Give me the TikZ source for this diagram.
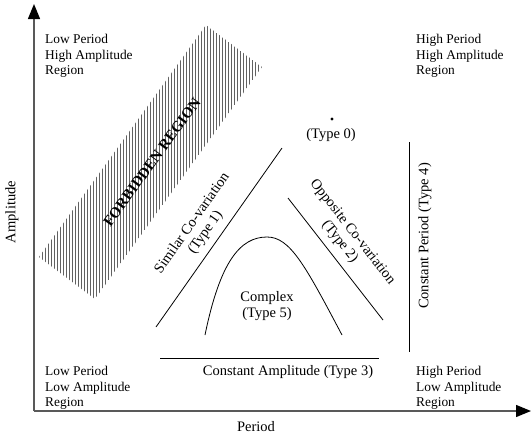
\documentclass[tikz,border=0pt]{standalone}
\usepackage{fontspec}
\setmainfont{Liberation Serif}
\usetikzlibrary{arrows.meta,patterns.meta}

\begin{document}
\begin{tikzpicture}[
        x=1pt, y=-1pt,
        axis/.style={draw=black!65, line width=1.3pt, -{Triangle[length=15pt,width=12pt,color=black]}},
        trend/.style={draw, line width=0.8pt},
        lbl/.style={font=\fontsize{14.5}{16}\selectfont, align=center, inner sep=0pt},
        corner/.style={font=\fontsize{13.4}{15.5}\selectfont, align=left, anchor=west, inner sep=0pt},
        forbid/.style={pattern={Lines[angle=90,distance=3pt,line width=1pt]}, pattern color=black!62}
    ]
        \useasboundingbox (0,0) rectangle (531,437);

        % Axes
        \coordinate (o) at (34,411);
        \coordinate (ytip) at (34,4);
        \coordinate (xtip) at (531,411);
        \draw[axis] (o) -- (ytip);
        \draw[axis] (o) -- (xtip);
        \node[lbl, rotate=90] (amp) at (12,212) {Amplitude};
        \node[lbl] (per) at (256,427) {Period};

        % Corner regions
        \node[corner] (lphA) at (45,56) {Low Period\\High Amplitude\\Region};
        \node[corner] (hphA) at (416,56) {High Period\\High Amplitude\\Region};
        \node[corner] (lplA) at (45,388) {Low Period\\Low Amplitude\\Region};
        \node[corner] (hplA) at (416,388) {High Period\\Low Amplitude\\Region};

        % Forbidden region
        \fill[forbid] (206,25) -- (262,67) -- (95,299) -- (39,257) -- cycle;
        \node[lbl, font=\fontsize{15}{17}\selectfont\bfseries, rotate=54] (forb) at (152,162) {FORBIDDEN REGION};

        % Type 0
        \fill (332,119) circle (1.7);
        \node[lbl] (t0) at (331,135) {(Type 0)};

        % Type 1
        \coordinate (s1) at (156,327);
        \coordinate (s2) at (282,148);
        \draw[trend] (s1) -- (s2);
        \node[lbl, rotate=55] (t1) at (199,228) {Similar Co-variation\\(Type 1)};

        % Type 2
        \coordinate (p1) at (288,198);
        \coordinate (p2) at (383,320);
        \draw[trend] (p1) -- (p2);
        \node[lbl, rotate=-52] (t2) at (346,237) {Opposite Co-variation\\(Type 2)};

        % Type 5
        \coordinate (c1) at (205,335);
        \coordinate (c2) at (267,237);
        \coordinate (c3) at (342,335);
        \draw[trend] (c1) .. controls (220,262) and (240,237) .. (c2)
            .. controls (290,237) and (305,265) .. (c3);
        \node[lbl] (t5) at (267,306) {Complex\\(Type 5)};

        % Type 3
        \coordinate (a1) at (160,358);
        \coordinate (a2) at (379,358);
        \draw[trend] (a1) -- (a2);
        \node[lbl] (t3) at (288,372) {Constant Amplitude (Type 3)};

        % Type 4
        \coordinate (v1) at (409,142);
        \coordinate (v2) at (409,352);
        \draw[trend] (v1) -- (v2);
        \node[lbl, rotate=90] (t4) at (425,236) {Constant Period (Type 4)};

    \end{tikzpicture}
\end{document}
